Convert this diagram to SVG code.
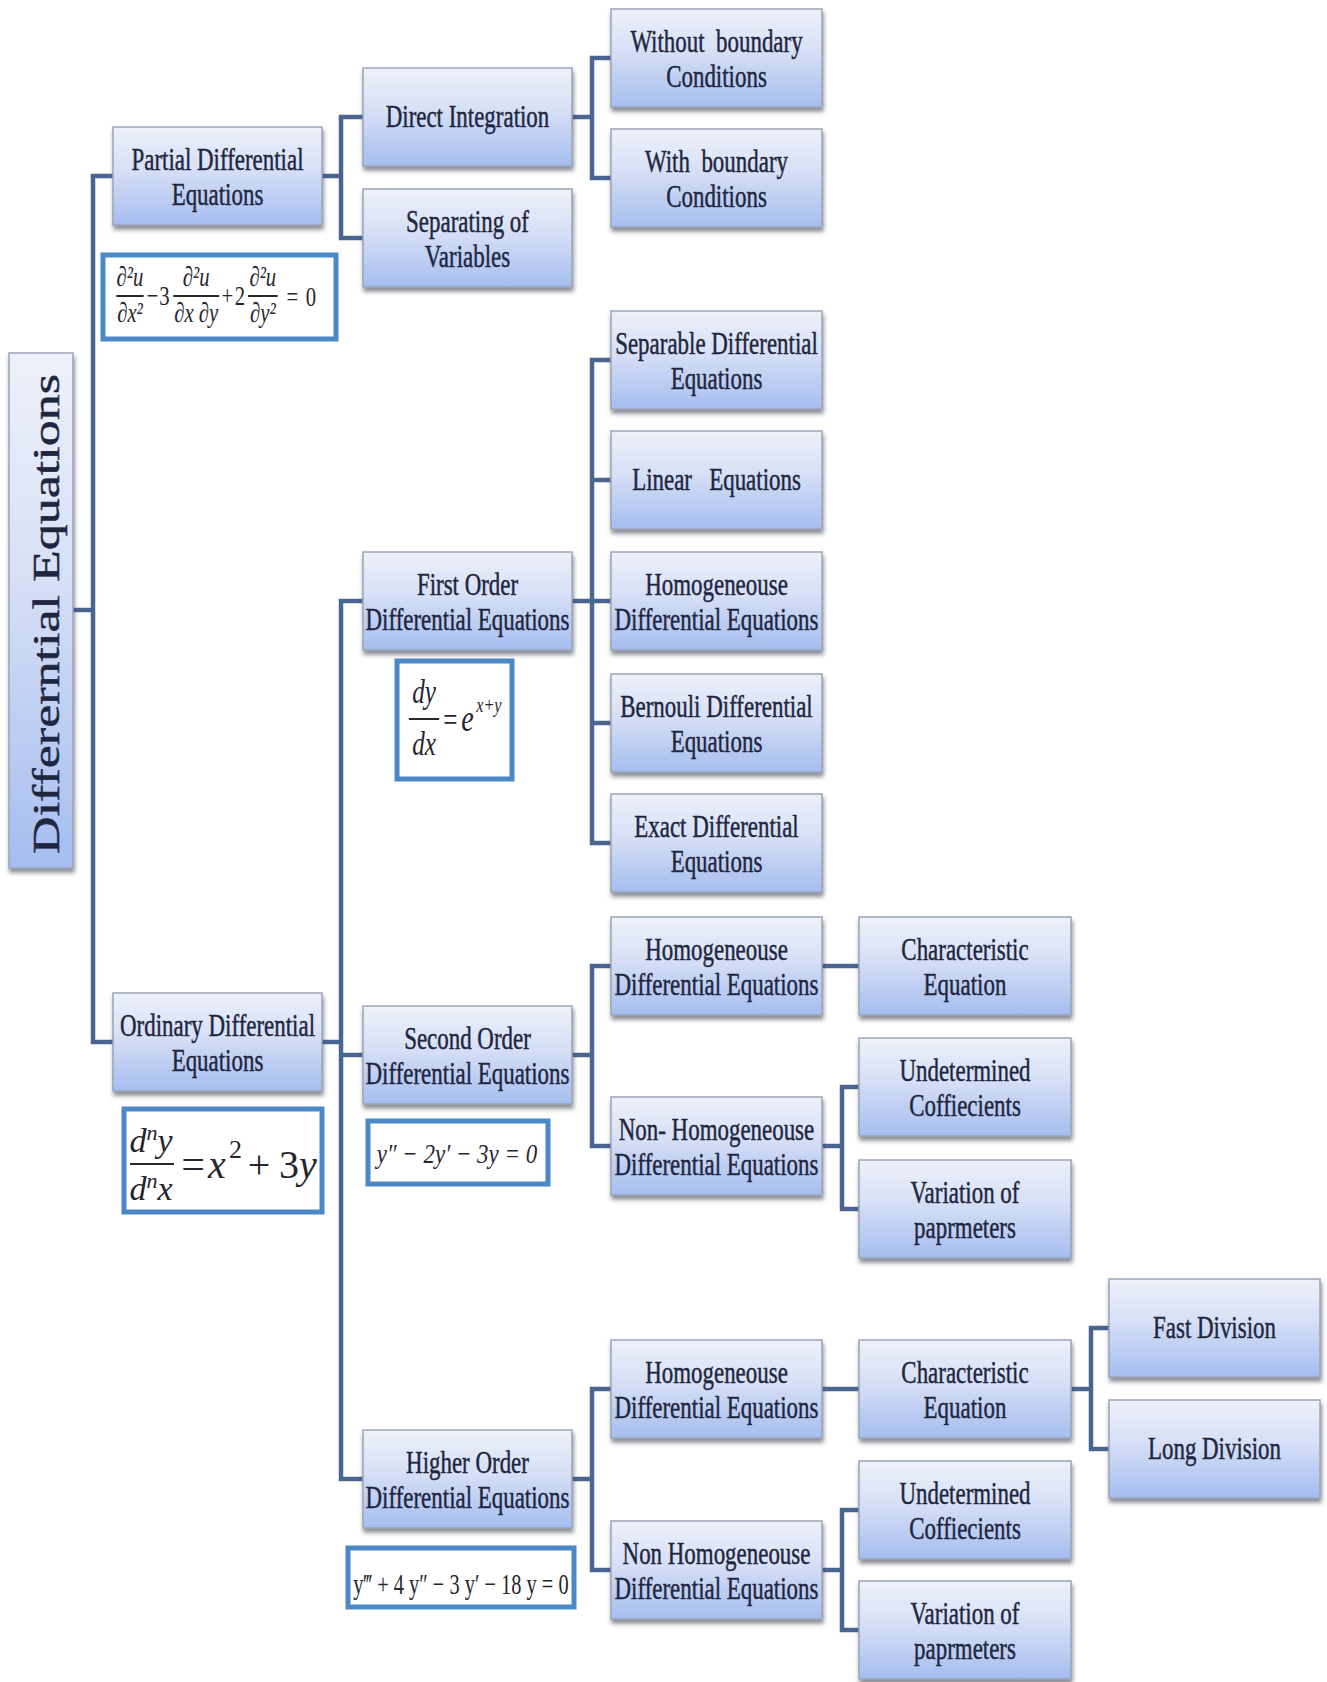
<svg xmlns="http://www.w3.org/2000/svg" width="1327" height="1682" viewBox="0 0 1327 1682">
  <defs>
    <linearGradient id="boxFill" x1="0" y1="0" x2="0" y2="1">
      <stop offset="0" stop-color="#eef1f9"/>
      <stop offset="0.45" stop-color="#d5dff6"/>
      <stop offset="1" stop-color="#a5bdef"/>
    </linearGradient>
    <filter id="shadow" x="-5%" y="-10%" width="115%" height="135%">
      <feDropShadow dx="1" dy="4" stdDeviation="2" flood-color="#3a4050" flood-opacity="0.6"/>
    </filter>
    <style>
      .box { fill: url(#boxFill); stroke: #9aa5bb; stroke-width: 1.5; filter: url(#shadow); }
      .lbl { font-family: "Liberation Serif", "Times New Roman", serif; font-size: 31px; fill: #1f2640; stroke: #1f2640; stroke-width: 0.45; text-anchor: middle; }
      .root { font-family: "Liberation Serif", "Times New Roman", serif; font-size: 52px; fill: #1f2640; stroke: #1f2640; stroke-width: 0.6; text-anchor: middle; }
      .conn path { fill: none; stroke: #4a6690; stroke-width: 4.5; stroke-linecap: square; }
      .fbox { fill: #ffffff; stroke: #4a88c8; stroke-width: 5; }
      .m { font-family: "Liberation Serif", "Times New Roman", serif; fill: #26262c; }
      .mi { font-style: italic; }
      .mc { text-anchor: middle; }
      .bar { stroke: #26262c; stroke-width: 2; }
    </style>
  </defs>

  <rect width="1327" height="1682" fill="#ffffff"/>

  <!-- connectors -->
  <g id="connectors" class="conn">
    <path d="M73 610 H93 M93 176 V1042 M93 176 H113 M93 1042 H113"/>
    <path d="M322 176 H341 M341 117 V238 M341 117 H363 M341 238 H363"/>
    <path d="M572 117 H592 M592 58 V178 M592 58 H611 M592 178 H611"/>
    <path d="M322 1042 H341 M341 601 V1479 M341 601 H363 M341 1055 H363 M341 1479 H363"/>
    <path d="M572 601 H592 M592 360 V843 M592 360 H611 M592 480 H611 M592 601 H611 M592 723 H611 M592 843 H611"/>
    <path d="M572 1055 H592 M592 966 V1146 M592 966 H611 M592 1146 H611"/>
    <path d="M822 966 H859"/>
    <path d="M822 1146 H842 M842 1087 V1209 M842 1087 H859 M842 1209 H859"/>
    <path d="M572 1479 H592 M592 1389 V1570 M592 1389 H611 M592 1570 H611"/>
    <path d="M822 1389 H859"/>
    <path d="M1071 1389 H1091 M1091 1328 V1449 M1091 1328 H1109 M1091 1449 H1109"/>
    <path d="M822 1570 H842 M842 1510 V1630 M842 1510 H859 M842 1630 H859"/>
  </g>

  <!-- root -->
  <g id="n-root">
    <rect class="box" x="9" y="353" width="64" height="515"/>
    <text class="root" transform="translate(59 614) scale(0.73 1) rotate(-90)" x="0" y="0">Differerntial Equations</text>
  </g>

  <!-- partial differential equations branch -->
  <g id="n-partial">
    <rect class="box" x="113" y="127" width="209" height="98"/>
    <text class="lbl" transform="matrix(0.74 0 0 1 217.5 0)"><tspan x="0" y="170">Partial Differential</tspan><tspan x="0" y="205">Equations</tspan></text>
  </g>
  <g id="n-direct">
    <rect class="box" x="363" y="68" width="209" height="98"/>
    <text class="lbl" transform="matrix(0.74 0 0 1 467.5 0)"><tspan x="0" y="127">Direct Integration</tspan></text>
  </g>
  <g id="n-separating">
    <rect class="box" x="363" y="189" width="209" height="98"/>
    <text class="lbl" transform="matrix(0.74 0 0 1 467.5 0)"><tspan x="0" y="232">Separating of</tspan><tspan x="0" y="267">Variables</tspan></text>
  </g>
  <g id="n-without">
    <rect class="box" x="611" y="9" width="211" height="98"/>
    <text class="lbl" transform="matrix(0.74 0 0 1 716.5 0)"><tspan x="0" y="52">Without&#160; boundary</tspan><tspan x="0" y="87">Conditions</tspan></text>
  </g>
  <g id="n-with">
    <rect class="box" x="611" y="129" width="211" height="98"/>
    <text class="lbl" transform="matrix(0.74 0 0 1 716.5 0)"><tspan x="0" y="172">With&#160; boundary</tspan><tspan x="0" y="207">Conditions</tspan></text>
  </g>

  <!-- PDE example -->
  <g id="f-pde">
    <rect class="fbox" x="103" y="255" width="233" height="84"/>
    <g transform="matrix(0.74 0 0 1 103 0)" class="m" font-size="28">
      <text class="mi mc" x="36.5" y="286">∂²u</text>
      <line class="bar" x1="18" y1="296" x2="55" y2="296"/>
      <text class="mi mc" x="36.5" y="322">∂x²</text>
      <text class="mc" x="67" y="305">−</text>
      <text class="mc" x="83" y="305">3</text>
      <text class="mi mc" x="126" y="286">∂²u</text>
      <line class="bar" x1="95" y1="296" x2="157" y2="296"/>
      <text class="mi mc" x="126" y="322">∂x ∂y</text>
      <text class="mc" x="168" y="305">+</text>
      <text class="mc" x="185" y="305">2</text>
      <text class="mi mc" x="216" y="286">∂²u</text>
      <line class="bar" x1="196" y1="296" x2="236" y2="296"/>
      <text class="mi mc" x="216" y="322">∂y²</text>
      <text class="mc" x="256" y="306">=</text>
      <text class="mc" x="281" y="306">0</text>
    </g>
  </g>

  <!-- ordinary differential equations branch -->
  <g id="n-ordinary">
    <rect class="box" x="113" y="993" width="209" height="98"/>
    <text class="lbl" transform="matrix(0.74 0 0 1 217.5 0)"><tspan x="0" y="1036">Ordinary Differential</tspan><tspan x="0" y="1071">Equations</tspan></text>
  </g>
  <g id="f-ode">
    <rect class="fbox" x="124" y="1109" width="198" height="103"/>
    <g class="m" font-size="34">
      <text class="mi mc" x="151" y="1152">d<tspan font-size="22" dy="-12">n</tspan><tspan dy="12">y</tspan></text>
      <line class="bar" x1="130" y1="1164" x2="174" y2="1164" stroke-width="2.5"/>
      <text class="mi mc" x="151" y="1200">d<tspan font-size="22" dy="-12">n</tspan><tspan dy="12">x</tspan></text>
      <text class="mc" x="193" y="1178" font-size="42">=</text>
      <text class="mi" x="208" y="1178" font-size="40">x</text>
      <text x="229" y="1158" font-size="26">2</text>
      <text class="mc" x="259" y="1178" font-size="40">+</text>
      <text x="279" y="1178" font-size="40">3</text>
      <text class="mi" x="299" y="1178" font-size="40">y</text>
    </g>
  </g>

  <!-- first order -->
  <g id="n-first">
    <rect class="box" x="363" y="552" width="209" height="98"/>
    <text class="lbl" transform="matrix(0.74 0 0 1 467.5 0)"><tspan x="0" y="595">First Order</tspan><tspan x="0" y="630">Differential Equations</tspan></text>
  </g>
  <g id="f-first">
    <rect class="fbox" x="397" y="661" width="115" height="118"/>
    <g transform="matrix(0.74 0 0 1 397 0)" class="m" font-size="34">
      <text class="mi mc" x="36.5" y="703">dy</text>
      <line class="bar" x1="16" y1="719" x2="57" y2="719"/>
      <text class="mi mc" x="36.5" y="755">dx</text>
      <text class="mc" x="72" y="731">=</text>
      <text class="mi" x="87" y="731" font-size="38">e</text>
      <text class="mi" x="107" y="712" font-size="22">x+y</text>
    </g>
  </g>
  <g id="n-separable">
    <rect class="box" x="611" y="311" width="211" height="98"/>
    <text class="lbl" transform="matrix(0.74 0 0 1 716.5 0)"><tspan x="0" y="354">Separable Differential</tspan><tspan x="0" y="389">Equations</tspan></text>
  </g>
  <g id="n-linear">
    <rect class="box" x="611" y="431" width="211" height="98"/>
    <text class="lbl" transform="matrix(0.74 0 0 1 716.5 0)"><tspan x="0" y="490">Linear&#160;&#160; Equations</tspan></text>
  </g>
  <g id="n-homog1">
    <rect class="box" x="611" y="552" width="211" height="98"/>
    <text class="lbl" transform="matrix(0.74 0 0 1 716.5 0)"><tspan x="0" y="595">Homogeneouse</tspan><tspan x="0" y="630">Differential Equations</tspan></text>
  </g>
  <g id="n-bernouli">
    <rect class="box" x="611" y="674" width="211" height="98"/>
    <text class="lbl" transform="matrix(0.74 0 0 1 716.5 0)"><tspan x="0" y="717">Bernouli Differential</tspan><tspan x="0" y="752">Equations</tspan></text>
  </g>
  <g id="n-exact">
    <rect class="box" x="611" y="794" width="211" height="98"/>
    <text class="lbl" transform="matrix(0.74 0 0 1 716.5 0)"><tspan x="0" y="837">Exact Differential</tspan><tspan x="0" y="872">Equations</tspan></text>
  </g>

  <!-- second order -->
  <g id="n-second">
    <rect class="box" x="363" y="1006" width="209" height="98"/>
    <text class="lbl" transform="matrix(0.74 0 0 1 467.5 0)"><tspan x="0" y="1049">Second Order</tspan><tspan x="0" y="1084">Differential Equations</tspan></text>
  </g>
  <g id="f-second">
    <rect class="fbox" x="368" y="1121" width="180" height="63"/>
    <text class="m mi mc" transform="matrix(0.82 0 0 1 457 0)" x="0" y="1163" font-size="28">y″ − 2y′ − 3y = 0</text>
  </g>
  <g id="n-homog2">
    <rect class="box" x="611" y="917" width="211" height="98"/>
    <text class="lbl" transform="matrix(0.74 0 0 1 716.5 0)"><tspan x="0" y="960">Homogeneouse</tspan><tspan x="0" y="995">Differential Equations</tspan></text>
  </g>
  <g id="n-char2">
    <rect class="box" x="859" y="917" width="212" height="98"/>
    <text class="lbl" transform="matrix(0.74 0 0 1 965 0)"><tspan x="0" y="960">Characteristic</tspan><tspan x="0" y="995">Equation</tspan></text>
  </g>
  <g id="n-nonhomog2">
    <rect class="box" x="611" y="1097" width="211" height="98"/>
    <text class="lbl" transform="matrix(0.74 0 0 1 716.5 0)"><tspan x="0" y="1140">Non- Homogeneouse</tspan><tspan x="0" y="1175">Differential Equations</tspan></text>
  </g>
  <g id="n-undet2">
    <rect class="box" x="859" y="1038" width="212" height="98"/>
    <text class="lbl" transform="matrix(0.74 0 0 1 965 0)"><tspan x="0" y="1081">Undetermined</tspan><tspan x="0" y="1116">Coffiecients</tspan></text>
  </g>
  <g id="n-var2">
    <rect class="box" x="859" y="1160" width="212" height="98"/>
    <text class="lbl" transform="matrix(0.74 0 0 1 965 0)"><tspan x="0" y="1203">Variation of</tspan><tspan x="0" y="1238">paprmeters</tspan></text>
  </g>

  <!-- higher order -->
  <g id="n-higher">
    <rect class="box" x="363" y="1430" width="209" height="98"/>
    <text class="lbl" transform="matrix(0.74 0 0 1 467.5 0)"><tspan x="0" y="1473">Higher Order</tspan><tspan x="0" y="1508">Differential Equations</tspan></text>
  </g>
  <g id="f-higher">
    <rect class="fbox" x="348" y="1548" width="226" height="59"/>
    <text class="m mc" transform="matrix(0.68 0 0 1 461 0)" x="0" y="1594" font-size="30">y‴ + 4 y″ − 3 y′ − 18 y = 0</text>
  </g>
  <g id="n-homog3">
    <rect class="box" x="611" y="1340" width="211" height="98"/>
    <text class="lbl" transform="matrix(0.74 0 0 1 716.5 0)"><tspan x="0" y="1383">Homogeneouse</tspan><tspan x="0" y="1418">Differential Equations</tspan></text>
  </g>
  <g id="n-char3">
    <rect class="box" x="859" y="1340" width="212" height="98"/>
    <text class="lbl" transform="matrix(0.74 0 0 1 965 0)"><tspan x="0" y="1383">Characteristic</tspan><tspan x="0" y="1418">Equation</tspan></text>
  </g>
  <g id="n-fast">
    <rect class="box" x="1109" y="1279" width="211" height="98"/>
    <text class="lbl" transform="matrix(0.74 0 0 1 1214.5 0)"><tspan x="0" y="1338">Fast Division</tspan></text>
  </g>
  <g id="n-long">
    <rect class="box" x="1109" y="1400" width="211" height="98"/>
    <text class="lbl" transform="matrix(0.74 0 0 1 1214.5 0)"><tspan x="0" y="1459">Long Division</tspan></text>
  </g>
  <g id="n-nonhomog3">
    <rect class="box" x="611" y="1521" width="211" height="98"/>
    <text class="lbl" transform="matrix(0.74 0 0 1 716.5 0)"><tspan x="0" y="1564">Non Homogeneouse</tspan><tspan x="0" y="1599">Differential Equations</tspan></text>
  </g>
  <g id="n-undet3">
    <rect class="box" x="859" y="1461" width="212" height="98"/>
    <text class="lbl" transform="matrix(0.74 0 0 1 965 0)"><tspan x="0" y="1504">Undetermined</tspan><tspan x="0" y="1539">Coffiecients</tspan></text>
  </g>
  <g id="n-var3">
    <rect class="box" x="859" y="1581" width="212" height="98"/>
    <text class="lbl" transform="matrix(0.74 0 0 1 965 0)"><tspan x="0" y="1624">Variation of</tspan><tspan x="0" y="1659">paprmeters</tspan></text>
  </g>
</svg>
